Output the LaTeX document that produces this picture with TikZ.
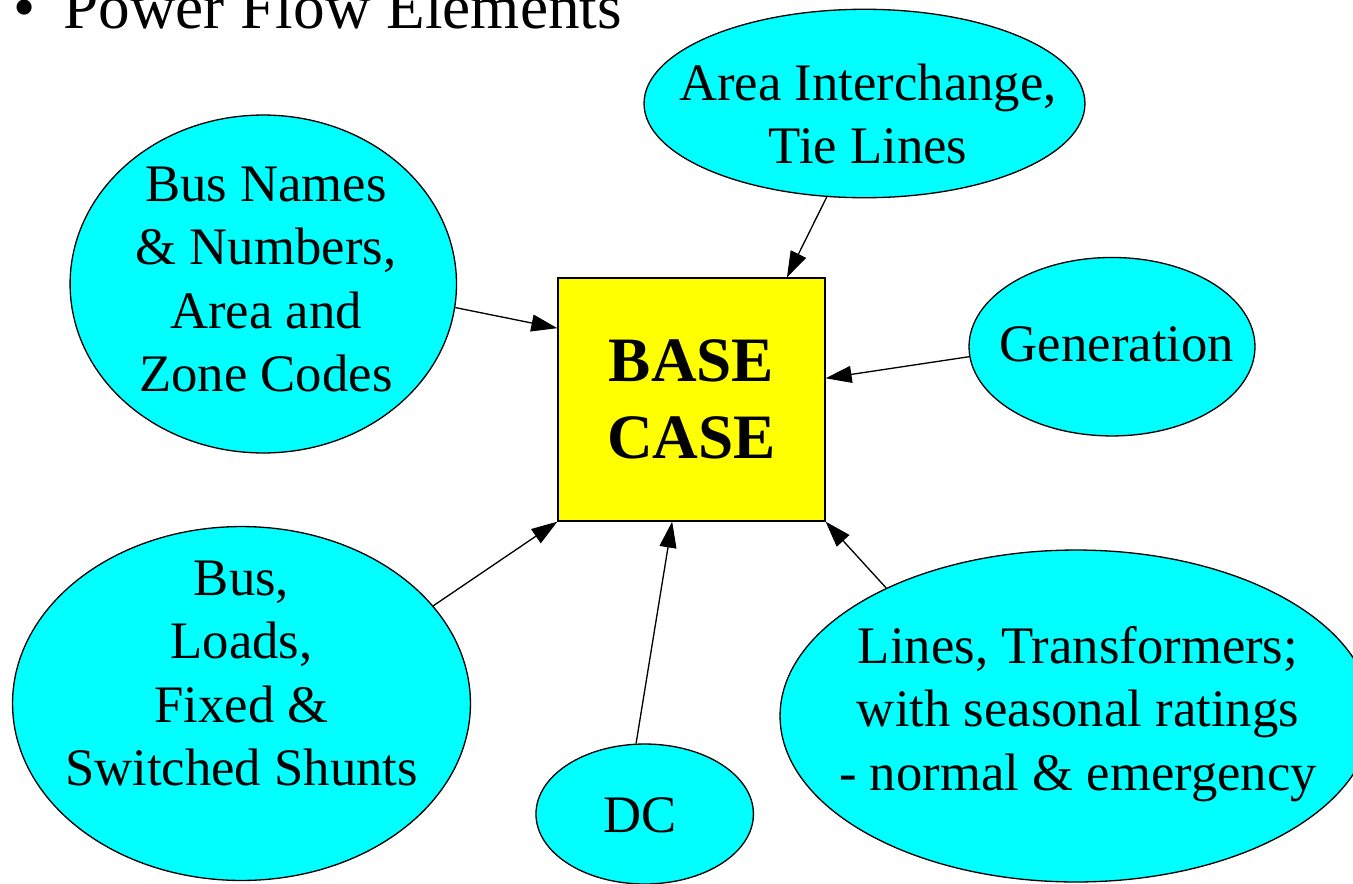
\documentclass[tikz,border=0pt]{standalone}
\usepackage{fontspec}
\setmainfont{Liberation Serif}
\usepackage{tikz}
\usetikzlibrary{arrows.meta,shapes}
\definecolor{bubblecyan}{RGB}{0,255,255}
\definecolor{caseyellow}{RGB}{255,255,0}
\newcommand{\lwidth}{0.75pt}
\newcommand{\bubblefont}{\fontsize{30}{36.1}\selectfont}
\newcommand{\titlefont}{\fontsize{36}{43}\selectfont}

\begin{document}
\begin{tikzpicture}[x=0.02cm, y=-0.02cm]
    %\draw[help lines] (0,0) grid (1353,883);
    \tikzset{BubbleStyle/.style = {ellipse, draw, fill=bubblecyan, line width=\lwidth, inner sep=0pt}}
    \tikzset{BubbleText/.style = {align=center, inner sep=0pt, font=\bubblefont}}
    \tikzset{EdgeStyle/.style = {line width=\lwidth, -{Triangle[length=0.52cm, width=0.34cm]}}}
    \useasboundingbox (0,0) rectangle (1353,883);
    % heading
    \node[anchor=base, inner sep=0pt, font=\titlefont] (dot) at (25,28.3) {\textbullet};
    \node[anchor=base west, inner sep=0pt, font=\titlefont] (title) at (63,28.3) {Power Flow Elements};
    % centre box
    \node[draw, fill=caseyellow, line width=\lwidth, minimum width=5.34cm, minimum height=4.86cm,
          align=center, font=\bfseries\fontsize{36}{44.2}\selectfont] (basecase) at (691.5,399.5) {BASE\\CASE};
    % inputs
    \node[BubbleStyle, minimum width=8.82cm, minimum height=3.77cm] (area) at (864.5,103.5) {};
    \node[BubbleText] (areatext) at (868,114.2) {Area Interchange,\\Tie Lines};
    \node[BubbleStyle, minimum width=7.73cm, minimum height=6.76cm] (names) at (263.3,284) {};
    \node[BubbleText] (namestext) at (266,279.7) {Bus Names\\\& Numbers,\\Area and\\Zone Codes};
    \node[BubbleStyle, minimum width=5.72cm, minimum height=3.57cm] (gen) at (1112,346.7) {};
    \node[BubbleText] (gentext) at (1117,344) {Generation};
    \node[BubbleStyle, minimum width=9.16cm, minimum height=7.08cm] (loads) at (241.5,703.5) {};
    \node[BubbleText] (loadstext) at (241.5,673.5) {Bus,\\Loads,\\Fixed \&\\Switched Shunts};
    \node[BubbleStyle, minimum width=4.35cm, minimum height=2.8cm] (dc) at (644.7,814) {};
    \node[BubbleText] (dctext) at (640.3,815) {DC};
    \node[BubbleStyle, minimum width=11.84cm, minimum height=6.64cm] (lines) at (1076,716) {};
    \node[BubbleText] (linestext) at (1078,713.7) {Lines, Transformers;\\with seasonal ratings\\- normal \& emergency};
    % connectors
    \draw[EdgeStyle] (area.248.4) -- (basecase.52.9);
    \draw[EdgeStyle] (names.353.75) -- (basecase.152.7);
    \draw[EdgeStyle] (gen.184.6) -- (basecase.9.7);
    \draw[EdgeStyle] (loads.27.8) -- (basecase.south west);
    \draw[EdgeStyle] (dc.97.1) -- (basecase.261.9);
    \draw[EdgeStyle] (lines.146) -- (basecase.south east);
\end{tikzpicture}
\end{document}
